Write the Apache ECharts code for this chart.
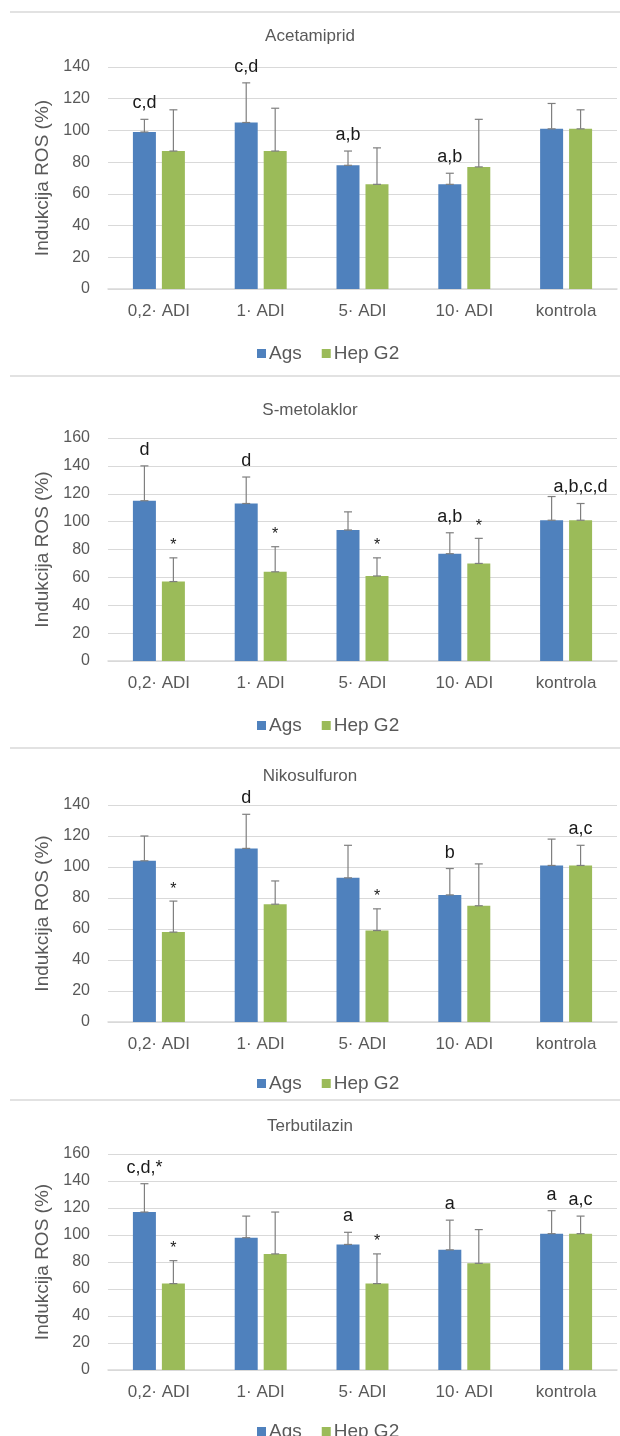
<!DOCTYPE html>
<html>
<head>
<meta charset="utf-8">
<script src="https://cdn.jsdelivr.net/npm/echarts@6/dist/echarts.min.js"></script>
<style>
html,body{margin:0;padding:0;background:#fff;}
#chart{width:620px;height:1436px;}
</style>
</head>
<body>
<div id="chart"></div>
<script>
// ---- data ----
const categories = ['0,2· ADI', '1· ADI', '5· ADI', '10· ADI', 'kontrola'];
const seriesNames = ['Ags', 'Hep G2'];
const panelTitles = ['Acetamiprid', 'S-metolaklor', 'Nikosulfuron', 'Terbutilazin'];
const axisMax = [140, 160, 140, 160];
const axisStep = [20, 20, 20, 20];
const yAxisTitle = 'Indukcija ROS (%)';

// Acetamiprid
const acetAgs = [99, 105, 78, 66, 101];
const acetAgsErr = [8, 25, 9, 7, 16];
const acetHep = [87, 87, 66, 77, 101];
const acetHepErr = [26, 27, 23, 30, 12];
const acetAgsMarks = ['c,d', 'c,d', 'a,b', 'a,b', ''];
const acetHepMarks = ['', '', '', '', ''];

// S-metolaklor
const smetAgs = [115, 113, 94, 77, 101];
const smetAgsErr = [25, 19, 13, 15, 17];
const smetHep = [57, 64, 61, 70, 101];
const smetHepErr = [17, 18, 13, 18, 12];
const smetAgsMarks = ['d', 'd', '', 'a,b', ''];
const smetHepMarks = ['*', '*', '*', '*', 'a,b,c,d'];

// Nikosulfuron
const nikoAgs = [104, 112, 93, 82, 101];
const nikoAgsErr = [16, 22, 21, 17, 17];
const nikoHep = [58, 76, 59, 75, 101];
const nikoHepErr = [20, 15, 14, 27, 13];
const nikoAgsMarks = ['', 'd', '', 'b', ''];
const nikoHepMarks = ['*', '', '*', '', 'a,c'];

// Terbutilazin
const terbAgs = [117, 98, 93, 89, 101];
const terbAgsErr = [21, 16, 9, 22, 17];
const terbHep = [64, 86, 64, 79, 101];
const terbHepErr = [17, 31, 22, 25, 13];
const terbAgsMarks = ['c,d,*', '', 'a', 'a', 'a'];
const terbHepMarks = ['*', '', '*', '', 'a,c'];

// ---- assembly ----
const panels = [
  { ags: acetAgs, agsErr: acetAgsErr, hep: acetHep, hepErr: acetHepErr, agsMarks: acetAgsMarks, hepMarks: acetHepMarks },
  { ags: smetAgs, agsErr: smetAgsErr, hep: smetHep, hepErr: smetHepErr, agsMarks: smetAgsMarks, hepMarks: smetHepMarks },
  { ags: nikoAgs, agsErr: nikoAgsErr, hep: nikoHep, hepErr: nikoHepErr, agsMarks: nikoAgsMarks, hepMarks: nikoHepMarks },
  { ags: terbAgs, agsErr: terbAgsErr, hep: terbHep, hepErr: terbHepErr, agsMarks: terbAgsMarks, hepMarks: terbHepMarks }
];

const colors = ['#4F81BD', '#9BBB59'];
const textGray = '#595959';
const FONT = 'Liberation Sans, Arial, sans-serif';

// layout (pixels)
const gridTop = [67, 438, 805, 1154];
const gridH = [222, 223, 217, 216];
const titleY = [33, 407, 773, 1123];
const legendY = [350, 722, 1080, 1428];
const sepY = [12, 376, 748, 1100];
const GRID_LEFT = 108, GRID_W = 509;
const BAR_W = 23, BAR_GAP = 0.26;
const OFFSET = (BAR_W + BAR_W * BAR_GAP) / 2;

const option = {
  animation: false,
  backgroundColor: '#fff',
  textStyle: { fontFamily: FONT },
  title: [], legend: [], grid: [], xAxis: [], yAxis: [], series: [],
  graphic: sepY.map(y => ({
    type: 'line', silent: true,
    shape: { x1: 10, y1: y, x2: 620, y2: y },
    style: { stroke: '#d9d9d9', lineWidth: 1.5 }
  }))
};

panels.forEach((p, i) => {
  option.title.push({
    text: panelTitles[i], left: 'center', top: titleY[i] - 10,
    textStyle: { fontSize: 17, fontWeight: 'normal', color: textGray, fontFamily: FONT }
  });
  option.legend.push({
    data: seriesNames, left: 252, top: legendY[i] - 11,
    icon: 'rect', itemWidth: 9, itemHeight: 9, itemGap: 20,
    textStyle: { fontSize: 19, color: textGray, fontFamily: FONT, padding: [0, 0, 0, -2] }
  });
  option.grid.push({ left: GRID_LEFT, width: GRID_W, top: gridTop[i], height: gridH[i], containLabel: false });
  option.xAxis.push({
    type: 'category', gridIndex: i, data: categories,
    axisLine: { lineStyle: { color: '#d9d9d9', width: 1.5 } },
    axisTick: { show: false },
    axisLabel: { color: textGray, fontSize: 17, margin: 14, fontFamily: FONT }
  });
  option.yAxis.push({
    type: 'value', gridIndex: i, min: 0, max: axisMax[i], interval: axisStep[i],
    name: yAxisTitle, nameLocation: 'middle', nameGap: 54, nameRotate: 90,
    nameTextStyle: { color: textGray, fontSize: 19, fontFamily: FONT },
    axisLine: { show: false }, axisTick: { show: false },
    axisLabel: { color: textGray, fontSize: 16, margin: 18, fontFamily: FONT },
    splitLine: { lineStyle: { color: '#d9d9d9', width: 1 } }
  });
  const vals = [p.ags, p.hep], errs = [p.agsErr, p.hepErr], marks = [p.agsMarks, p.hepMarks];
  seriesNames.forEach((name, s) => {
    option.series.push({
      name: name, type: 'bar', xAxisIndex: i, yAxisIndex: i,
      data: vals[s], barWidth: BAR_W, barGap: (BAR_GAP * 100) + '%',
      itemStyle: { color: colors[s] }
    });
  });
  seriesNames.forEach((name, s) => {
    const v = vals[s], e = errs[s], m = marks[s];
    option.series.push({
      name: name + ' err', type: 'custom', xAxisIndex: i, yAxisIndex: i, z: 5,
      data: v.map((val, k) => [k, val, e[k]]),
      encode: { x: 0, y: 1 },
      renderItem: function (params, api) {
        const c = api.value(0), val = api.value(1), er = api.value(2);
        const base = api.coord([c, val]);
        const top = api.coord([c, val + er]);
        const x = base[0] + (s === 0 ? -OFFSET : OFFSET);
        const st = { stroke: '#7f7f7f', lineWidth: 1.2 };
        const children = [
          { type: 'line', shape: { x1: x, y1: base[1], x2: x, y2: top[1] }, style: st },
          { type: 'line', shape: { x1: x - 4, y1: top[1], x2: x + 4, y2: top[1] }, style: st },
          { type: 'line', shape: { x1: x - 4, y1: base[1], x2: x + 4, y2: base[1] }, style: st }
        ];
        const lab = m[params.dataIndex];
        if (lab) {
          const starOnly = lab === '*';
          children.push({
            type: 'text',
            style: {
              x: x, y: top[1] - (starOnly ? 12 : 16), text: lab,
              textAlign: 'center', textVerticalAlign: 'middle',
              fill: '#1a1a1a', fontSize: starOnly ? 16 : 18, fontFamily: FONT
            }
          });
        }
        return { type: 'group', children: children };
      }
    });
  });
});

const chart = echarts.init(document.getElementById('chart'), null, { renderer: 'canvas' });
chart.setOption(option);
</script>
</body>
</html>
